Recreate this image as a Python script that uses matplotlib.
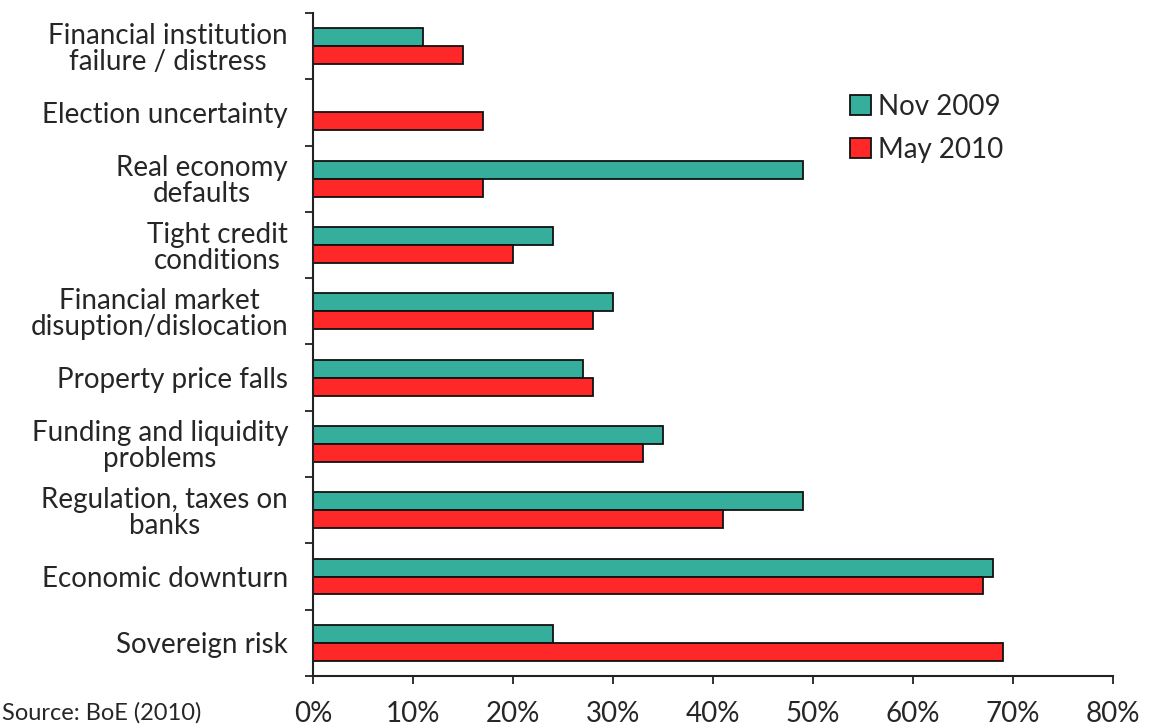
import matplotlib
matplotlib.use("Agg")
import matplotlib.pyplot as plt
from matplotlib.ticker import FixedLocator, FuncFormatter
import numpy as np

categories = [
    "Financial institution\nfailure / distress",
    "Election uncertainty",
    "Real economy\ndefaults",
    "Tight credit\nconditions",
    "Financial market\ndisuption/dislocation",
    "Property price falls",
    "Funding and liquidity\nproblems",
    "Regulation, taxes on\nbanks",
    "Economic downturn",
    "Sovereign risk",
]
nov_2009 = [11, 0, 49, 24, 30, 27, 35, 49, 68, 24]
may_2010 = [15, 17, 17, 20, 28, 28, 33, 41, 67, 69]
series_labels = ["Nov 2009", "May 2010"]
x_ticks = [0, 10, 20, 30, 40, 50, 60, 70, 80]

plt.rcParams['font.family'] = ['Lato', 'DejaVu Sans']
teal = '#35AE9C'
red = '#FF2828'
txt = '#262626'

fig = plt.figure(figsize=(11.53, 7.25), dpi=100)
ax = fig.add_axes([313/1153, 1-676/725, 800/1153, 663/725])

y = np.arange(len(categories))
h = 0.27
ax.barh(y - h/2, nov_2009, height=h, color=teal, edgecolor='#111111', linewidth=1.3, label=series_labels[0])
ax.barh(y + h/2, may_2010, height=h, color=red, edgecolor='#111111', linewidth=1.3, label=series_labels[1])

ax.set_xlim(0, 80)
ax.set_ylim(len(categories) - 0.5, -0.5)

ax.set_yticks(y)
ax.set_yticklabels(categories, fontsize=20, color=txt, multialignment='center', linespacing=1.0)
ax.tick_params(axis='y', which='major', length=0, pad=18)
ax.yaxis.set_minor_locator(FixedLocator(np.arange(-0.5, len(categories), 1.0)))
ax.tick_params(axis='y', which='minor', length=6, width=1.3, direction='out', color='#222222')

ax.set_xticks(x_ticks)
ax.xaxis.set_major_formatter(FuncFormatter(lambda v, p: f"{int(v)}%"))
ax.tick_params(axis='x', length=6, width=1.3, direction='out', color='#222222', labelsize=20, labelcolor=txt, pad=12)

for s in ['top', 'right']:
    ax.spines[s].set_visible(False)
for s in ['left', 'bottom']:
    ax.spines[s].set_linewidth(1.5)
    ax.spines[s].set_color('#222222')

leg = fig.legend(loc='upper left', bbox_to_anchor=(836/1153, 1-80/725), frameon=False,
                 fontsize=20, handlelength=0.75, handleheight=0.75, handletextpad=0.25,
                 labelspacing=0.6, borderpad=0)
for t in leg.get_texts():
    t.set_color(txt)

fig.text(2/1153, 1-720/725, "Source: BoE (2010)", fontsize=17, color=txt, ha='left', va='baseline')

fig.savefig("out.png", dpi=100)
